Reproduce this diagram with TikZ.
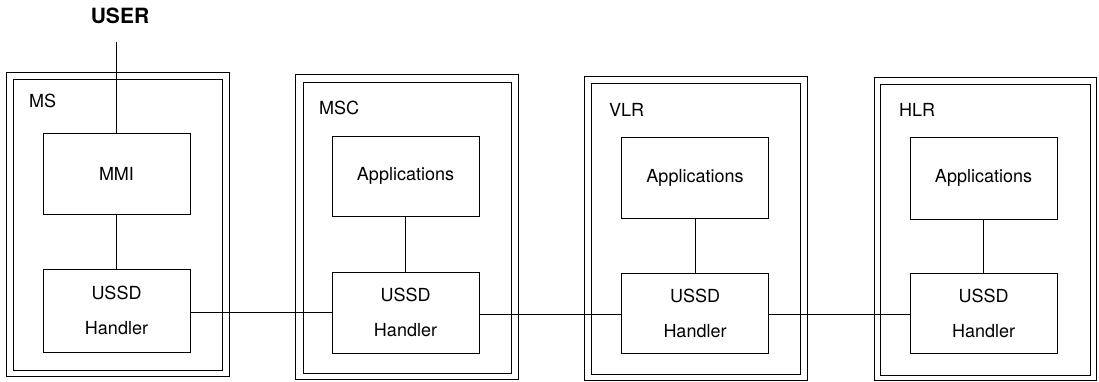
\documentclass[tikz,border=0pt]{standalone}
\usepackage{fontspec}
\setmainfont{TeX Gyre Heros}
\begin{document}
\begin{tikzpicture}[x=1pt,y=-1pt,
  outerbox/.style={draw, line width=0.8pt, inner sep=0pt},
  innerbox/.style={draw, line width=1pt, inner sep=0pt},
  unit/.style={draw, line width=0.9pt, inner sep=0pt, minimum width=147pt,
    align=center, font=\fontsize{18}{35}\selectfont},
  tag/.style={anchor=west, inner sep=0pt, font=\fontsize{18}{21}\selectfont},
  link/.style={line width=0.9pt}]
\useasboundingbox (0,0) rectangle (1099,382);

% USER on top
\node[inner sep=0pt, font=\fontsize{21}{24}\selectfont\bfseries] (user) at (120,16) {USER};
\coordinate (userend) at (116.7,42);

% MS
\node[outerbox, minimum width=223pt, minimum height=304pt] (msout) at (117.5,224) {};
\node[innerbox, minimum width=209pt, minimum height=290pt] (msin) at (117.5,225) {};
\node[tag] (mslbl) at (29,101) {MS};
\node[unit, minimum height=81pt] (mmi) at (116.5,173.5) {MMI};
\node[unit, minimum height=83pt] (msussd) at (116.5,310.5) {USSD\\Handler};

% MSC
\node[outerbox, minimum width=223pt, minimum height=305pt] (mscout) at (406.5,226.5) {};
\node[innerbox, minimum width=208pt, minimum height=290pt] (mscin) at (407,228) {};
\node[tag] (msclbl) at (319,108) {MSC};
\node[unit, minimum height=80pt] (mscapp) at (405.5,176) {Applications};
\node[unit, minimum height=81pt] (mscussd) at (405.5,312.5) {USSD\\Handler};

% VLR
\node[outerbox, minimum width=223pt, minimum height=304pt] (vlrout) at (695.5,228) {};
\node[innerbox, minimum width=209pt, minimum height=290pt] (vlrin) at (695.5,229) {};
\node[tag] (vlrlbl) at (609,110) {VLR};
\node[unit, minimum height=81pt] (vlrapp) at (695,177.5) {Applications};
\node[unit, minimum height=80pt] (vlrussd) at (695,313) {USSD\\Handler};

% HLR
\node[outerbox, minimum width=222pt, minimum height=303pt] (hlrout) at (985,228.5) {};
\node[innerbox, minimum width=210pt, minimum height=290pt] (hlrin) at (985,230) {};
\node[tag] (hlrlbl) at (899,110) {HLR};
\node[unit, minimum height=82pt] (hlrapp) at (983.5,178) {Applications};
\node[unit, minimum height=80pt] (hlrussd) at (983.5,313) {USSD\\Handler};

% vertical links
\draw[link] (userend) -- (userend |- mmi.north);
\draw[link] (mmi.south) -- (msussd.north);
\draw[link] (mscapp.south) -- (mscussd.north);
\draw[link] (vlrapp.south) -- (vlrussd.north);
\draw[link] (hlrapp.south) -- (hlrussd.north);

% horizontal links between the USSD handlers
\draw[link] ([yshift=-2pt]msussd.east) -- ([yshift=-2pt]msussd.east -| mscussd.west);
\draw[link] ([yshift=-2pt]mscussd.east) -- ([yshift=-2pt]mscussd.east -| vlrussd.west);
\draw[link] ([yshift=-1pt]vlrussd.east) -- ([yshift=-1pt]vlrussd.east -| hlrussd.west);
\end{tikzpicture}
\end{document}
